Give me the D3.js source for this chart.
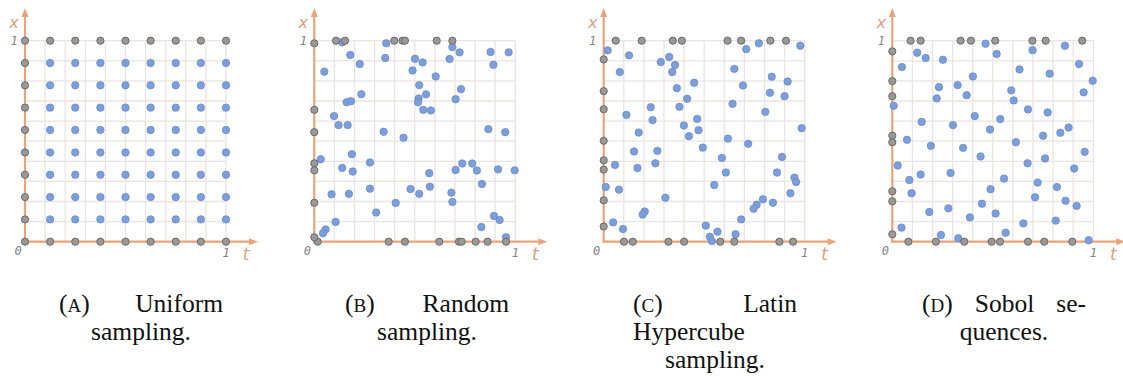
<!DOCTYPE html>
<html>
<head>
<meta charset="utf-8">
<script src="https://d3js.org/d3.v7.min.js"></script>
<style>
  body { margin: 0; background: #fff; }
</style>
</head>
<body>
<svg id="drawing_region"></svg>
<script>
// --- data ------------------------------------------------------------
// (A) uniform grid levels
const uniformT = [0, 0.125, 0.25, 0.375, 0.5, 0.625, 0.75, 0.875, 1];
const uniformX = [0, 0.111, 0.222, 0.333, 0.444, 0.556, 0.667, 0.778, 0.889, 1];

// (B) random sampling: interior points [t, x]
const randomInner = [
  [0.139,0.992],[0.358,0.987],[0.687,0.968],[0.723,0.942],[0.877,0.944],[0.967,0.942],
  [0.179,0.929],[0.353,0.914],[0.501,0.910],[0.673,0.909],[0.539,0.892],[0.226,0.884],
  [0.891,0.880],[0.050,0.846],[0.489,0.852],[0.604,0.822],[0.522,0.779],[0.730,0.759],
  [0.234,0.734],[0.556,0.733],[0.519,0.713],[0.703,0.709],[0.516,0.694],[0.161,0.694],
  [0.182,0.699],[0.542,0.656],[0.580,0.653],[0.098,0.625],[0.121,0.580],[0.166,0.580],
  [0.866,0.560],[0.950,0.545],[0.345,0.547],[0.444,0.517],[0.032,0.410],[0.187,0.435],
  [0.277,0.394],[0.139,0.367],[0.191,0.349],[0.736,0.389],[0.786,0.389],[0.703,0.357],
  [0.809,0.354],[0.914,0.360],[0.997,0.355],[0.572,0.341],[0.834,0.287],[0.575,0.274],
  [0.479,0.262],[0.277,0.264],[0.086,0.236],[0.172,0.238],[0.522,0.238],[0.682,0.244],
  [0.687,0.198],[0.405,0.193],[0.308,0.145],[0.106,0.098],[0.894,0.128],[0.922,0.108],
  [0.831,0.073],[0.056,0.061],[0.043,0.042],[0.954,0.022]
];
const randomTop = [0.108, 0.153, 0.398, 0.439, 0.451, 0.609, 0.687];
const randomBottom = [0.017, 0.370, 0.451, 0.622, 0.720, 0.733, 0.803, 0.862, 0.954];
const randomLeft = [0.987, 0.656, 0.545, 0.390, 0.355, 0.194, 0.022];

// (C) latin hypercube sampling
const lhsInner = [
  [0.020,0.952],[0.126,0.927],[0.772,0.987],[0.709,0.958],[0.978,0.975],[0.326,0.919],
  [0.284,0.894],[0.355,0.879],[0.341,0.844],[0.080,0.844],[0.650,0.860],[0.836,0.821],
  [0.915,0.797],[0.450,0.791],[0.693,0.777],[0.364,0.764],[0.827,0.741],[0.900,0.724],
  [0.415,0.711],[0.641,0.686],[0.234,0.669],[0.377,0.671],[0.804,0.646],[0.113,0.631],
  [0.243,0.605],[0.465,0.611],[0.399,0.578],[0.472,0.555],[0.985,0.565],[0.174,0.543],
  [0.424,0.525],[0.618,0.513],[0.719,0.487],[0.493,0.468],[0.151,0.449],[0.267,0.452],
  [0.887,0.422],[0.588,0.417],[0.056,0.382],[0.257,0.390],[0.168,0.367],[0.608,0.344],
  [0.862,0.344],[0.949,0.319],[0.957,0.297],[0.010,0.272],[0.076,0.259],[0.550,0.282],
  [0.929,0.241],[0.307,0.219],[0.792,0.211],[0.842,0.194],[0.761,0.184],[0.746,0.164],
  [0.204,0.150],[0.194,0.135],[0.684,0.111],[0.047,0.096],[0.096,0.063],[0.508,0.080],
  [0.566,0.050],[0.528,0.025],[0.538,0.003],[0.656,0.037]
];
const lhsTop = [0.060, 0.189, 0.344, 0.389, 0.616, 0.684, 0.829, 0.907];
const lhsBottom = [0.101, 0.145, 0.322, 0.400, 0.580, 0.650, 0.874, 0.942];
const lhsLeft = [0.907, 0.749, 0.659, 0.502, 0.405, 0.359, 0.206, 0.076];

// (D) sobol sequence
const sobolInner = [
  [0.464,0.985],[0.859,0.975],[0.698,0.953],[0.124,0.940],[0.519,0.934],[0.166,0.914],
  [0.252,0.905],[0.929,0.884],[0.048,0.869],[0.633,0.857],[0.783,0.836],[0.401,0.822],
  [0.997,0.801],[0.325,0.779],[0.232,0.769],[0.592,0.753],[0.952,0.743],[0.370,0.729],
  [0.221,0.713],[0.604,0.703],[0.007,0.676],[0.675,0.658],[0.773,0.643],[0.410,0.625],
  [0.537,0.610],[0.146,0.596],[0.302,0.580],[0.877,0.568],[0.486,0.558],[0.836,0.542],
  [0.750,0.527],[0.073,0.507],[0.615,0.495],[0.192,0.477],[0.352,0.467],[0.957,0.447],
  [0.439,0.424],[0.760,0.414],[0.027,0.379],[0.673,0.390],[0.905,0.364],[0.290,0.342],
  [0.141,0.334],[0.556,0.314],[0.085,0.307],[0.723,0.294],[0.819,0.272],[0.489,0.261],
  [0.096,0.241],[0.710,0.221],[0.862,0.204],[0.446,0.189],[0.917,0.178],[0.279,0.166],
  [0.184,0.148],[0.514,0.140],[0.386,0.121],[0.813,0.105],[0.652,0.091],[0.046,0.070],
  [0.564,0.045],[0.242,0.033],[0.328,0.017],[0.977,0.007]
];
const sobolTop = [0.091, 0.141, 0.340, 0.391, 0.512, 0.697, 0.763, 0.945];
const sobolBottom = [0.080, 0.217, 0.358, 0.494, 0.536, 0.675, 0.756, 0.896];
const sobolLeft = [0.947, 0.799, 0.724, 0.528, 0.495, 0.251, 0.201, 0.037];

const gridTicks = [0, 0.1, 0.2, 0.3, 0.4, 0.5, 0.6, 0.7, 0.8, 0.9, 1];

const captionLines = [
  [["(A)", "Uniform"], ["sampling."]],
  [["(B)", "Random"], ["sampling."]],
  [["(C)", "Latin"], ["Hypercube"], ["sampling."]],
  [["(D)", "Sobol", "se-"], ["quences."]]
];

// uniform: interior is the grid without the t=0 column and the x=0 / x=1 rows
const uniformInner = [];
uniformT.slice(1).forEach(t => uniformX.slice(1, -1).forEach(x => uniformInner.push([t, x])));

const panels = [
  { inner: uniformInner, top: uniformT.slice(1), bottom: uniformT.slice(1), left: uniformX },
  { inner: randomInner, top: randomTop, bottom: randomBottom, left: randomLeft },
  { inner: lhsInner, top: lhsTop, bottom: lhsBottom, left: lhsLeft },
  { inner: sobolInner, top: sobolTop, bottom: sobolBottom, left: sobolLeft }
];

// --- drawing ---------------------------------------------------------
const svg = d3.select('#drawing_region')
  .attr('width', 1123)
  .attr('height', 376);

const axisColor = '#e9a57a';
const labelColor = '#d9a283';
const gridColor = '#ece4e0';

class SamplePlot {

  constructor( config, data ) {
    this.config = config;
    this.data = data;
    this.init();
  }

  init() {
    let self = this;
    const c = self.config;
    self.g = svg.append('g');
    self.xScale = d3.scaleLinear().domain([0, 1]).range([c.left, c.left + c.size]);
    self.yScale = d3.scaleLinear().domain([0, 1]).range([c.bottom, c.bottom - c.size]);
  }

  render() {
    let self = this;
    const xs = self.xScale, ys = self.yScale;
    const g = self.g;

    // grid
    g.selectAll('.vgrid').data(gridTicks).enter().append('line')
      .attr('x1', d => xs(d)).attr('x2', d => xs(d))
      .attr('y1', ys(0)).attr('y2', ys(1))
      .attr('stroke', gridColor).attr('stroke-width', 1.3);
    g.selectAll('.hgrid').data(gridTicks).enter().append('line')
      .attr('y1', d => ys(d)).attr('y2', d => ys(d))
      .attr('x1', xs(0)).attr('x2', xs(1))
      .attr('stroke', gridColor).attr('stroke-width', 1.3);

    // axes with arrows
    const ox = xs(0), oy = ys(0);
    const tipX = ox + 233, tipY = 8;
    g.append('line').attr('x1', ox).attr('x2', ox).attr('y1', oy + 1).attr('y2', tipY + 6)
      .attr('stroke', axisColor).attr('stroke-width', 2.2);
    g.append('line').attr('x1', ox - 1).attr('x2', tipX - 6).attr('y1', oy).attr('y2', oy)
      .attr('stroke', axisColor).attr('stroke-width', 2.2);
    g.append('path')
      .attr('d', `M${ox},${tipY} L${ox - 3.5},${tipY + 9} L${ox + 3.5},${tipY + 9} Z`)
      .attr('fill', axisColor);
    g.append('path')
      .attr('d', `M${tipX},${oy} L${tipX - 9},${oy - 3.5} L${tipX - 9},${oy + 3.5} Z`)
      .attr('fill', axisColor);

    // tick labels
    const tickFont = (sel) => sel
      .attr('font-family', "'DejaVu Sans Mono', monospace")
      .attr('font-style', 'italic')
      .attr('font-size', 12)
      .attr('fill', '#858585')
      .attr('text-anchor', 'middle');
    g.append('text').call(tickFont).attr('x', ox - 11).attr('y', ys(1) + 4).text('1');
    g.append('text').call(tickFont).attr('x', ox - 7).attr('y', oy + 13).text('0');
    g.append('text').call(tickFont).attr('x', xs(1)).attr('y', oy + 15).text('1');

    // axis names
    g.append('text').attr('x', ox - 11).attr('y', 28)
      .attr('font-family', "'DejaVu Sans', sans-serif").attr('font-style', 'italic')
      .attr('font-size', 16).attr('fill', labelColor).attr('text-anchor', 'middle')
      .text('x');
    g.append('text').attr('x', xs(1) + 20).attr('y', oy + 18)
      .attr('font-family', "'DejaVu Sans', sans-serif").attr('font-style', 'italic')
      .attr('font-size', 17).attr('fill', labelColor).attr('text-anchor', 'middle')
      .text('t');

    // interior points
    g.selectAll('.inner').data(self.data.inner).enter().append('circle')
      .attr('cx', d => xs(d[0])).attr('cy', d => ys(d[1]))
      .attr('r', 3.7)
      .attr('fill', '#7c9edb').attr('stroke', '#6a8bcc').attr('stroke-width', 0.8);

    // boundary / initial points
    const boundary = []
      .concat(self.data.top.map(t => [t, 1]))
      .concat(self.data.bottom.map(t => [t, 0]))
      .concat(self.data.left.map(x => [0, x]));
    g.selectAll('.bnd').data(boundary).enter().append('circle')
      .attr('cx', d => xs(d[0])).attr('cy', d => ys(d[1]))
      .attr('r', 3.6)
      .attr('fill', '#9b9997').attr('stroke', '#6c6a68').attr('stroke-width', 1);
  }
}

const panelLeft = [25, 314.3, 603.7, 892.3];
panels.forEach( (p, i) => {
  const plot = new SamplePlot({ left: panelLeft[i], bottom: 241.7, size: 201 }, p);
  plot.render();
});

// --- captions (justified lines, last line centred) -------------------
const capLeft = [59, 345, 633, 922];
const capWidth = 164;
const capBase = [312, 340, 368];

function addWord( g, word, x, y ) {
  const t = g.append('text').attr('x', x).attr('y', y)
    .attr('font-family', "'Liberation Serif', serif")
    .attr('font-size', 25.5).attr('fill', '#111');
  const m = word.match(/^\((.)\)$/);
  if (m) {
    t.append('tspan').text('(');
    t.append('tspan').attr('font-size', 19).text(m[1]);
    t.append('tspan').text(')');
  } else {
    t.text(word);
  }
  return t;
}

captionLines.forEach( (lines, i) => {
  const g = svg.append('g');
  lines.forEach( (words, li) => {
    const y = capBase[li];
    const nodes = words.map(w => addWord(g, w, 0, y));
    const widths = nodes.map(n => n.node().getComputedTextLength());
    const total = d3.sum(widths);
    if (li === lines.length - 1) {
      let x = capLeft[i] + (capWidth - total) / 2;
      nodes.forEach((n, k) => { n.attr('x', x); x += widths[k] + 6; });
    } else if (words.length === 1) {
      nodes[0].attr('x', capLeft[i]);
    } else {
      const gap = (capWidth - total) / (words.length - 1);
      let x = capLeft[i];
      nodes.forEach((n, k) => { n.attr('x', x); x += widths[k] + gap; });
    }
  });
});
</script>
</body>
</html>
